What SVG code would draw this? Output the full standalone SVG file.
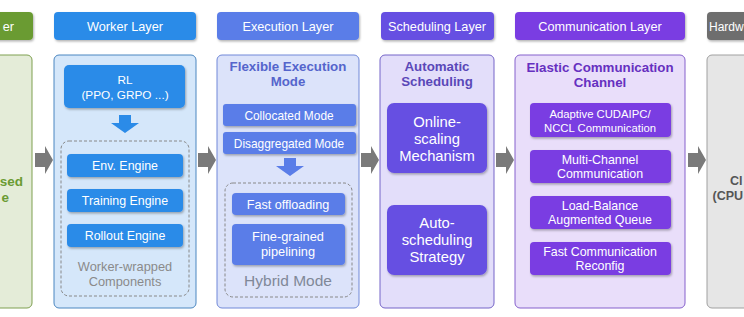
<svg xmlns="http://www.w3.org/2000/svg" width="744" height="317" viewBox="0 0 744 317">
<defs>
<filter id="sh" x="-10%" y="-10%" width="130%" height="140%">
<feDropShadow dx="1" dy="1.5" stdDeviation="1" flood-color="#000" flood-opacity="0.3"/>
</filter>
<style>
text{font-family:"Liberation Sans",Arial,sans-serif;}
.hd{fill:#fff;font-size:12.7px;text-anchor:middle;}
.wt{fill:#fff;font-size:12.4px;text-anchor:middle;}
.big{fill:#fff;font-size:14.8px;text-anchor:middle;}
.gr{fill:#8a8a8a;font-size:12.8px;text-anchor:middle;}
.ttl{font-size:13.3px;font-weight:bold;text-anchor:middle;}
.dash{fill:none;stroke:#888;stroke-width:1;stroke-dasharray:3 2;}
.arr{fill:#7a7a7a;}
</style>
</defs>
<rect width="744" height="317" fill="#fff"/>

<g id="green-layer">
<rect x="-10" y="12" width="43" height="28" rx="4" fill="#6b9b33" filter="url(#sh)"/>
<text x="14" y="31" style="fill:#fff;font-size:12.7px;text-anchor:end">er</text>
<rect x="-10" y="55" width="42" height="253" rx="5" fill="#e4ecd8" stroke="#7ea050" stroke-width="1"/>
<text style="text-anchor:end;font-size:13.5px;font-weight:bold;fill:#6b9b33"><tspan x="23" y="186">sed</tspan><tspan x="9" y="201.5">e</tspan></text>
</g>

<g id="worker-layer">
<rect x="54" y="12" width="142" height="28" rx="4" fill="#2b8be8" filter="url(#sh)"/>
<text x="125" y="31" class="hd">Worker Layer</text>
<rect x="54" y="55" width="142" height="253" rx="5" fill="#d5e7fa" stroke="#4a86c0" stroke-width="1"/>
</g>
<g id="rl">
<rect x="64" y="65" width="121" height="43" rx="5" fill="#2b8be8" filter="url(#sh)"/>
<text class="wt" style="font-size:11.8px"><tspan x="125" y="84">RL</tspan><tspan x="125" y="99">(PPO, GRPO ...)</tspan></text>
</g>
<g id="worker-wrapped">
<rect x="61" y="141" width="128" height="155" rx="8" class="dash"/>
<text class="gr"><tspan x="125" y="271">Worker-wrapped</tspan><tspan x="125" y="286">Components</tspan></text>
</g>
<g id="env-engine">
<rect x="67" y="154" width="116" height="23" rx="4" fill="#2b8be8" filter="url(#sh)"/>
<text x="125" y="170" class="wt">Env. Engine</text>
</g>
<g id="training-engine">
<rect x="67" y="189" width="116" height="23" rx="4" fill="#2b8be8" filter="url(#sh)"/>
<text x="125" y="205" class="wt">Training Engine</text>
</g>
<g id="rollout-engine">
<rect x="67" y="224" width="116" height="23" rx="4" fill="#2b8be8" filter="url(#sh)"/>
<text x="125" y="240" class="wt">Rollout Engine</text>
</g>

<g id="execution-layer">
<rect x="217" y="12" width="142" height="28" rx="4" fill="#5a7de8" filter="url(#sh)"/>
<text x="288" y="31" class="hd">Execution Layer</text>
<rect x="217" y="55" width="142" height="253" rx="5" fill="#dce3fa" stroke="#7088d8" stroke-width="1"/>
<text class="ttl" fill="#5565cc"><tspan x="288" y="71">Flexible Execution</tspan><tspan x="288" y="86">Mode</tspan></text>
</g>
<g id="collocated">
<rect x="223" y="104" width="133" height="22" rx="3" fill="#5a7de8" filter="url(#sh)"/>
<text x="289" y="119.5" class="wt" style="font-size:11.9px">Collocated Mode</text>
</g>
<g id="disaggregated">
<rect x="223" y="132" width="133" height="22" rx="3" fill="#5a7de8" filter="url(#sh)"/>
<text x="289" y="147.5" class="wt" style="font-size:11.9px">Disaggregated Mode</text>
</g>
<g id="hybrid-mode">
<rect x="225" y="183" width="127" height="114" rx="8" class="dash"/>
<text x="288" y="286" style="text-anchor:middle;font-size:15.5px;fill:#808898">Hybrid Mode</text>
</g>
<g id="fast-offloading">
<rect x="232" y="193" width="113" height="22" rx="4" fill="#5a7de8" filter="url(#sh)"/>
<text x="288" y="208.5" class="wt" style="font-size:12.6px">Fast offloading</text>
</g>
<g id="fine-grained">
<rect x="232" y="224" width="113" height="41" rx="4" fill="#5a7de8" filter="url(#sh)"/>
<text class="wt" style="font-size:12.8px"><tspan x="288" y="241">Fine-grained</tspan><tspan x="288" y="256">pipelining</tspan></text>
</g>

<g id="scheduling-layer">
<rect x="381" y="12" width="113" height="28" rx="4" fill="#6650e2" filter="url(#sh)"/>
<text x="437" y="31" class="hd">Scheduling Layer</text>
<rect x="380" y="55" width="114" height="253" rx="5" fill="#e3defa" stroke="#7564c8" stroke-width="1"/>
<text class="ttl" fill="#5a48b8"><tspan x="437" y="71">Automatic</tspan><tspan x="437" y="86">Scheduling</tspan></text>
</g>
<g id="online-scaling">
<rect x="387" y="103" width="100" height="70" rx="7" fill="#6650e2" filter="url(#sh)"/>
<text class="big"><tspan x="437" y="127">Online-</tspan><tspan x="437" y="144">scaling</tspan><tspan x="437" y="161">Mechanism</tspan></text>
</g>
<g id="auto-scheduling">
<rect x="387" y="205" width="100" height="70" rx="7" fill="#6650e2" filter="url(#sh)"/>
<text class="big"><tspan x="437" y="228">Auto-</tspan><tspan x="437" y="245">scheduling</tspan><tspan x="437" y="262">Strategy</tspan></text>
</g>

<g id="communication-layer">
<rect x="515" y="12" width="170" height="28" rx="4" fill="#7a3ee2" filter="url(#sh)"/>
<text x="600" y="31" class="hd">Communication Layer</text>
<rect x="515" y="55" width="170" height="253" rx="5" fill="#e9defa" stroke="#8560cc" stroke-width="1"/>
<text class="ttl" fill="#6630c0"><tspan x="600" y="72">Elastic Communication</tspan><tspan x="600" y="87">Channel</tspan></text>
</g>
<g id="adaptive">
<rect x="530" y="103" width="141" height="34" rx="4" fill="#7a3ee2" filter="url(#sh)"/>
<text class="wt" style="font-size:11.3px"><tspan x="600" y="118">Adaptive CUDAIPC/</tspan><tspan x="600" y="132">NCCL Communication</tspan></text>
</g>
<g id="multi-channel">
<rect x="530" y="150" width="141" height="33" rx="4" fill="#7a3ee2" filter="url(#sh)"/>
<text class="wt"><tspan x="600" y="164">Multi-Channel</tspan><tspan x="600" y="178">Communication</tspan></text>
</g>
<g id="load-balance">
<rect x="530" y="196" width="141" height="33" rx="4" fill="#7a3ee2" filter="url(#sh)"/>
<text class="wt"><tspan x="600" y="210">Load-Balance</tspan><tspan x="600" y="224">Augmented Queue</tspan></text>
</g>
<g id="fast-reconfig">
<rect x="530" y="242" width="141" height="33" rx="4" fill="#7a3ee2" filter="url(#sh)"/>
<text class="wt"><tspan x="600" y="256">Fast Communication</tspan><tspan x="600" y="270">Reconfig</tspan></text>
</g>

<g id="hardware-layer">
<rect x="707" y="12" width="60" height="28" rx="4" fill="#6e6e6e" filter="url(#sh)"/>
<text x="709" y="31" style="fill:#fff;font-size:12px">Hardw</text>
<rect x="707" y="55" width="60" height="253" rx="5" fill="#e6e6e6" stroke="#a0a0a0" stroke-width="1"/>
<text style="fill:#555;font-size:12.5px;font-weight:bold"><tspan x="730" y="185">Cl</tspan><tspan x="712.5" y="200">(CPU</tspan></text>
</g>

<g id="connectors">
<path class="arr" d="M35,153 H45 V146 L53,160 L45,174 V167 H35 Z"/>
<path class="arr" d="M198,153 H208 V146 L216,160 L208,174 V167 H198 Z"/>
<path class="arr" d="M361,153 H371 V146 L379,160 L371,174 V167 H361 Z"/>
<path class="arr" d="M496,153 H506 V146 L514,160 L506,174 V167 H496 Z"/>
<path class="arr" d="M688,153 H698 V146 L706,160 L698,174 V167 H688 Z"/>
<path d="M119,115 H131 V123 H139 L125,133 L111,123 H119 Z" fill="#2b8be8"/>
<path d="M284,158 H296 V166 H304 L290,176 L276,166 H284 Z" fill="#5a7de8"/>
</g>
</svg>
